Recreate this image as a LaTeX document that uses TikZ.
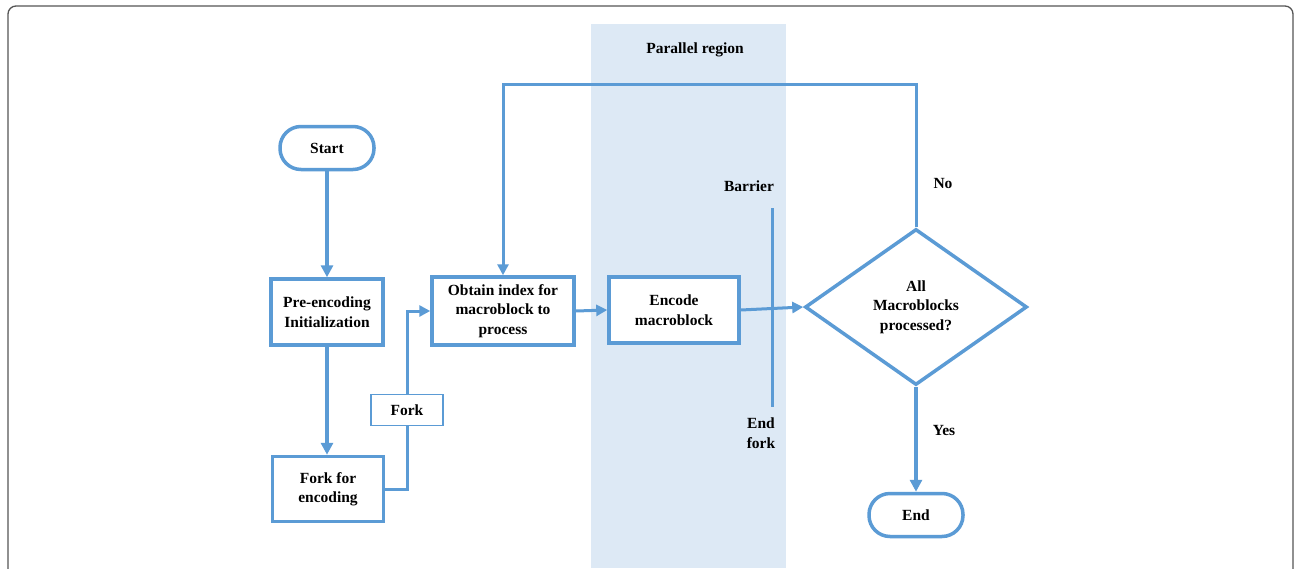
\documentclass[tikz,border=0pt]{standalone}
\usepackage{fontspec}
\setmainfont{Liberation Serif}
\usetikzlibrary{arrows.meta,shapes.geometric}
\definecolor{flow}{HTML}{5B9BD5}
\definecolor{region}{HTML}{DDE9F5}
\definecolor{frame}{HTML}{555555}
\tikzset{
  every node/.style={font=\bfseries\fontsize{15.5}{19.5}\selectfont, align=center},
  procbox/.style={draw=flow, line width=3.5pt, fill=white, inner sep=0pt},
  termbox/.style={draw=flow, line width=3.5pt, fill=white, rounded corners=21pt, minimum width=94pt, minimum height=43pt},
  thinbox/.style={draw=flow, line width=1.2pt, fill=white, minimum width=72pt, minimum height=31pt},
  decide/.style={draw=flow, line width=3.5pt, fill=white, diamond, aspect=1.42, minimum width=222pt, minimum height=156pt, inner sep=0pt},
  flowline/.style={draw=flow, line width=4pt, -{Triangle[length=12pt,width=12pt]}},
  thinflow/.style={draw=flow, line width=3pt, -{Triangle[length=11pt,width=11pt]}},
  plainflow/.style={draw=flow, line width=3pt},
  lbl/.style={inner sep=0pt},
}
\begin{document}
\begin{tikzpicture}[x=1pt,y=-1pt]
\useasboundingbox[fill=white] (0,0) rectangle (1294,568);
% frame
\draw[frame, line width=1.3pt, rounded corners=8pt] (8,580) -- (8,6) -- (1293,6) -- (1293,580);
% parallel region
\fill[region] (591,24) rectangle (786,568);
\node[lbl] (preg) at (695,50) {Parallel region};

% nodes
\node[termbox] (start) at (327,148) {Start};
\node[procbox, minimum width=112pt, minimum height=66pt] (pre) at (327,312) {Pre-encoding\\Initialization};
\node[procbox, minimum width=111pt, minimum height=65pt] (forkenc) at (328,489) {Fork for\\encoding};
\node[thinbox] (fork) at (407,410) {Fork};
\node[procbox, minimum width=142pt, minimum height=68pt] (obtain) at (503,311) {Obtain index for\\macroblock to\\process};
\node[procbox, minimum width=130pt, minimum height=66pt] (encode) at (674,310) {Encode\\macroblock};
\node[decide] (dec) at (916,307) {All\\Macroblocks\\processed?};
\node[termbox] (endn) at (916,515) {End};

% barrier
\coordinate (bt) at (772,208);
\coordinate (bb) at (772,407);
\draw[plainflow] (bt) -- (bb);
\node[lbl] (barrier) at (749,186) {Barrier};
\node[lbl] (endfork) at (761,433) {End\\fork};
\node[lbl] (no) at (943,183) {No};
\node[lbl] (yes) at (944,430) {Yes};

% connectors
\draw[flowline] (start.south) -- (pre.north);
\draw[flowline] (pre.south) -- (pre.south |- forkenc.north);
\draw[plainflow] (forkenc.east) -- (407,489) -- (fork.south);
\draw[thinflow] (fork.north) -- (407,311) -- (obtain.west);
\draw[thinflow] (obtain.east) -- (encode.west);
\draw[thinflow] (encode.east) -- (dec.west);
\draw[thinflow] (dec.north) -- (916,84) -- (503,84) -- (obtain.north);
\draw[flowline] (dec.south) -- (endn.north);
\end{tikzpicture}
\end{document}
